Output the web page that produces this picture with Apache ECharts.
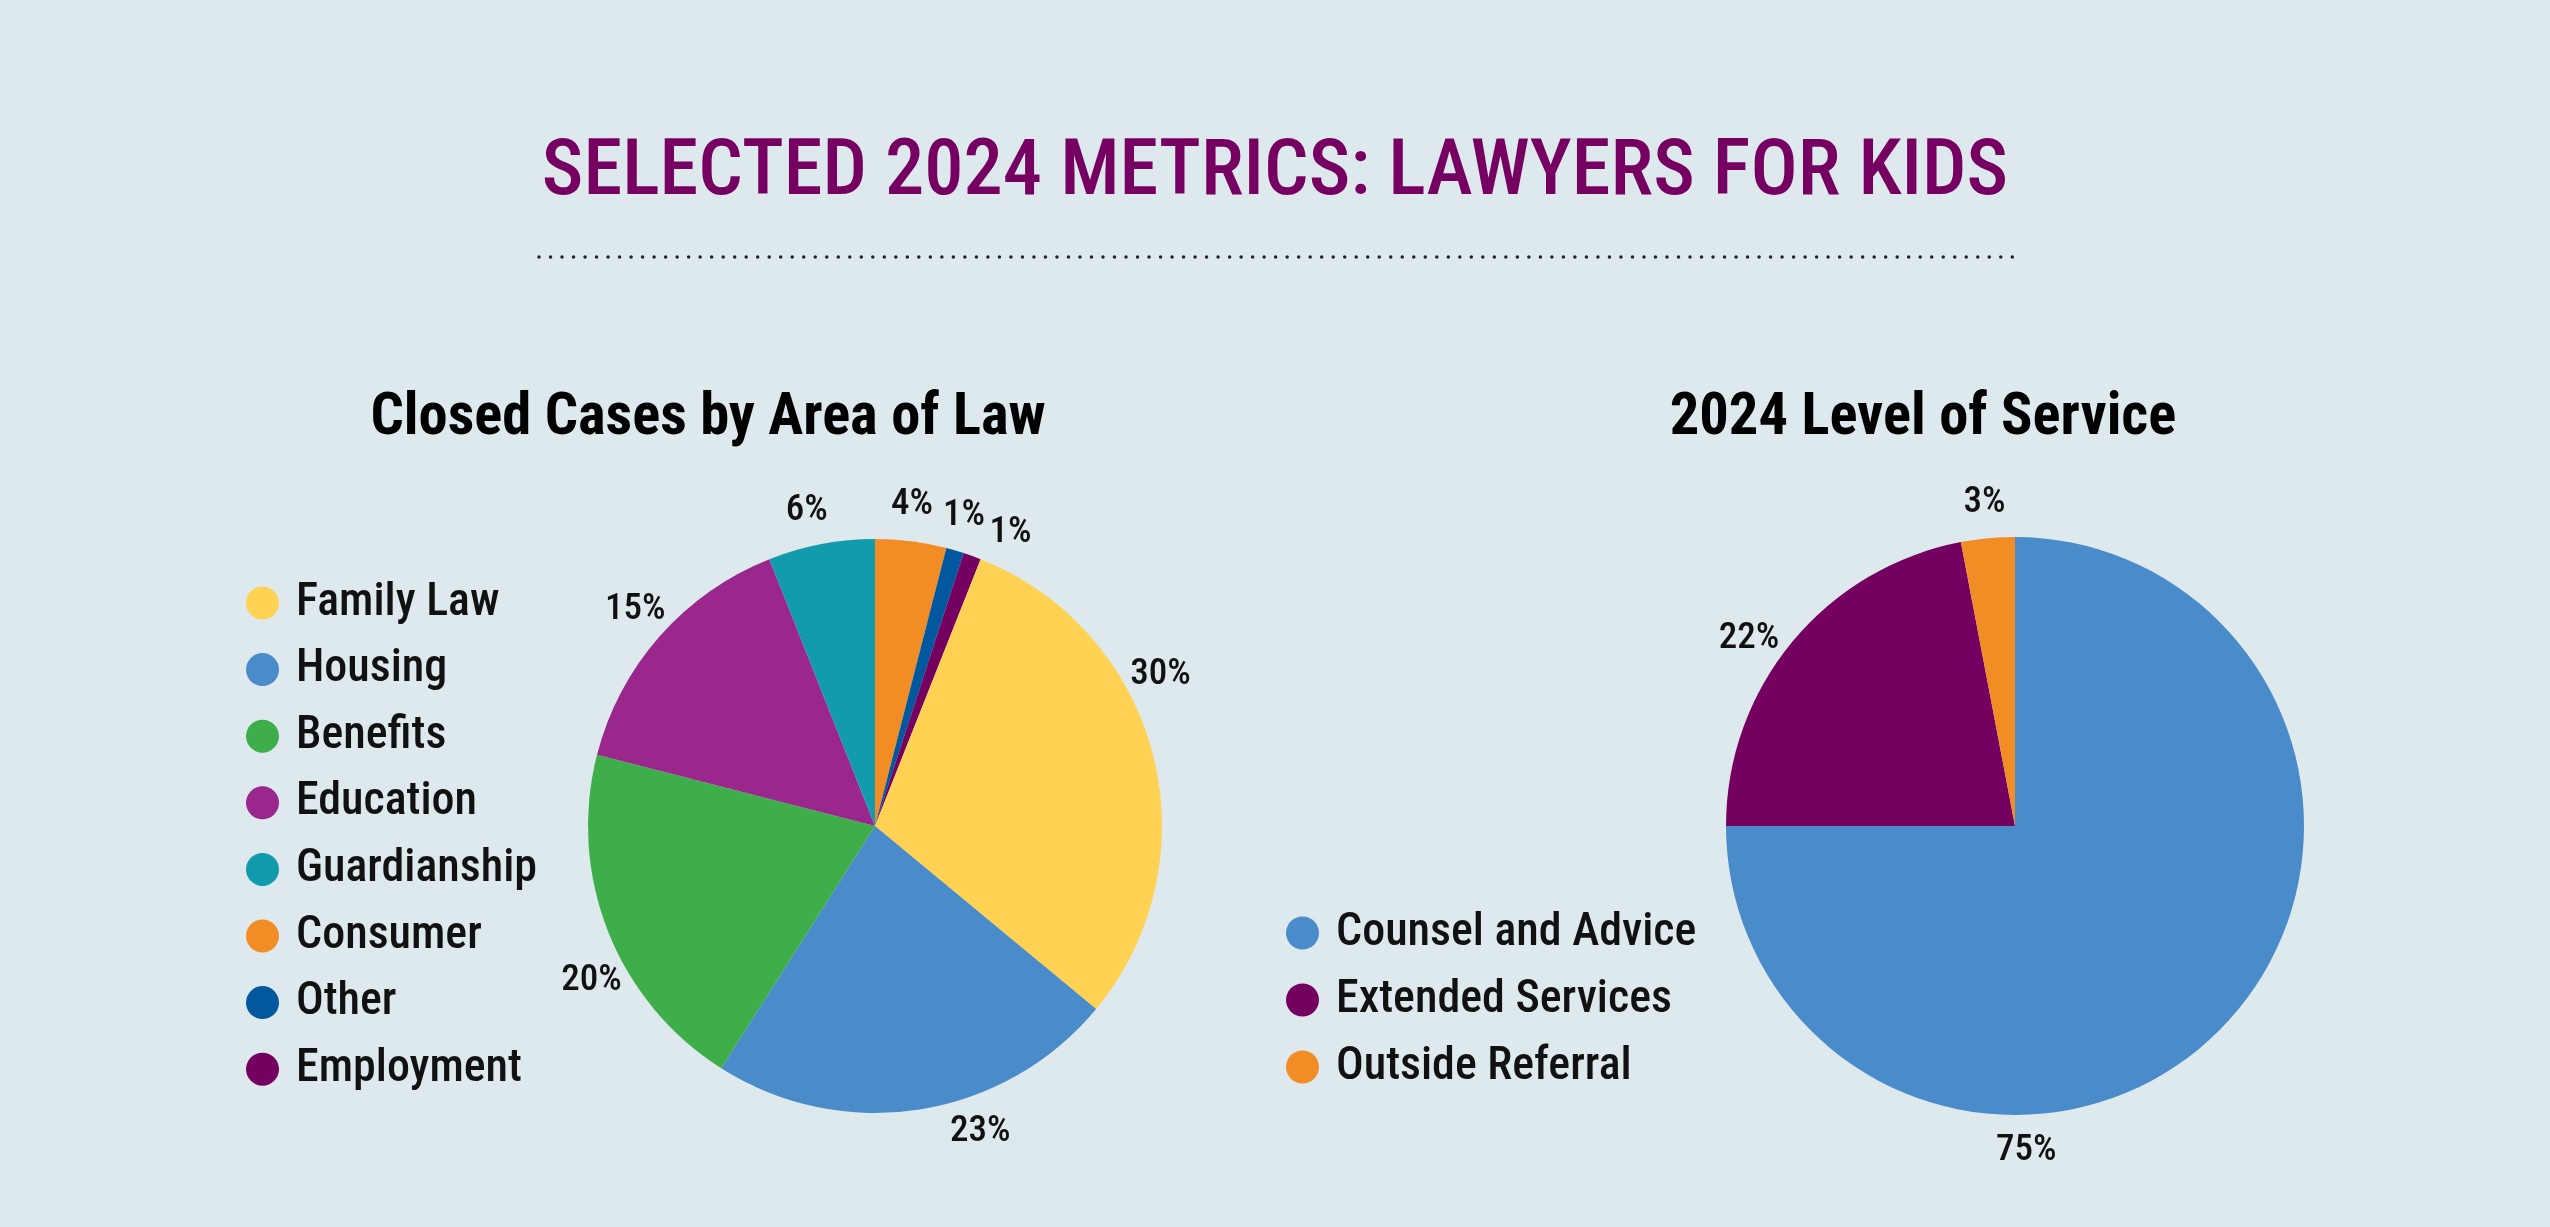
<!DOCTYPE html>
<html><head><meta charset="utf-8">
<script src="https://cdn.jsdelivr.net/npm/echarts@6/dist/echarts.min.js"></script>
<style>html,body{margin:0;padding:0;background:#dee9ed;} #c{width:2550px;height:1227px;}</style>
</head><body><div id="c"></div>
<script>
// ---- data ----
const areaCategories = ['Consumer', 'Other', 'Employment', 'Family Law', 'Housing', 'Benefits', 'Education', 'Guardianship'];
const areaValues = [4, 1, 1, 30, 23, 20, 15, 6];
const areaLegendOrder = ['Family Law', 'Housing', 'Benefits', 'Education', 'Guardianship', 'Consumer', 'Other', 'Employment'];
const serviceCategories = ['Counsel and Advice', 'Extended Services', 'Outside Referral'];
const serviceValues = [75, 22, 3];
const mainTitle = 'SELECTED 2024 METRICS: LAWYERS FOR KIDS';
const leftTitle = 'Closed Cases by Area of Law';
const rightTitle = '2024 Level of Service';

// ---- styles / layout ----
const colorMap = {
  'Family Law': '#ffd254', 'Housing': '#4a8bc9', 'Benefits': '#3dae4a', 'Education': '#9a278b',
  'Guardianship': '#129aad', 'Consumer': '#f28c24', 'Other': '#02589e', 'Employment': '#740060',
  'Counsel and Advice': '#4a8bc9', 'Extended Services': '#740060', 'Outside Referral': '#f28c24'
};
const FONT = '"Roboto Condensed", "Liberation Sans Narrow", "DejaVu Sans Condensed", Roboto, sans-serif';
const pieGeom = [{c: [875, 826], r: 287}, {c: [2015, 826], r: 289}];
const labelGap = 36;
// angular nudges (degrees, clockwise) applied to the library's mid-angle label direction
const labelNudgeDeg = [
  {'Family Law': -13.5, 'Housing': -10, 'Benefits': -7, 'Education': 0.7, 'Guardianship': -1.4, 'Consumer': -0.6, 'Other': -0.2, 'Employment': 5},
  {'Counsel and Advice': 43, 'Extended Services': -4.5, 'Outside Referral': 0}
];

const chart = echarts.init(document.getElementById('c'), null, {renderer: 'canvas'});
const mk = (cats, vals) => cats.map((n, i) => ({name: n, value: vals[i], itemStyle: {color: colorMap[n]}}));

const labelStyle = {
  show: true, position: 'outside', formatter: '{c}%',
  fontFamily: FONT, fontSize: 37, fontWeight: 500, color: '#111'
};
const legendText = {fontFamily: FONT, fontSize: 46, fontWeight: 500, color: '#111', padding: [0, 0, 0, 12]};

function makeLabelLayout(si, cats) {
  return function (p) {
    const g = pieGeom[si];
    const lr = p.labelRect;
    const ax = p.align === 'right' ? lr.x + lr.width + 5 : lr.x - 5;
    const ay = lr.y + lr.height / 2;
    const name = cats[p.dataIndex];
    const th = Math.atan2(ay - g.c[1], ax - g.c[0]) + (labelNudgeDeg[si][name] || 0) * Math.PI / 180;
    const d = g.r + labelGap;
    return {x: g.c[0] + d * Math.cos(th), y: g.c[1] + d * Math.sin(th), align: 'center', verticalAlign: 'middle'};
  };
}

chart.setOption({
  backgroundColor: '#dee9ed',
  animation: false,
  graphic: [
    {type: 'text', x: 1275, y: 174, style: {text: mainTitle, fill: '#760062', font: '500 78.5px ' + FONT, textAlign: 'center', textVerticalAlign: 'middle'}},
    {type: 'line', shape: {x1: 539, y1: 257, x2: 2015, y2: 257}, style: {stroke: '#222', lineWidth: 3.5, lineDash: [0.01, 11.5], lineCap: 'round'}},
    {type: 'text', x: 708, y: 419, style: {text: leftTitle, fill: '#000', font: 'bold 58.5px ' + FONT, textAlign: 'center', textVerticalAlign: 'middle'}},
    {type: 'text', x: 1923, y: 419, style: {text: rightTitle, fill: '#000', font: 'bold 58.5px ' + FONT, textAlign: 'center', textVerticalAlign: 'middle'}}
  ],
  legend: [
    {
      orient: 'vertical', left: 241, top: 575, itemWidth: 33, itemHeight: 33, itemGap: 20.6,
      icon: 'circle', data: areaLegendOrder, textStyle: legendText, selectedMode: false
    },
    {
      orient: 'vertical', left: 1281, top: 905, itemWidth: 33, itemHeight: 33, itemGap: 21,
      icon: 'circle', data: serviceCategories, textStyle: legendText, selectedMode: false
    }
  ],
  series: [
    {
      type: 'pie', center: pieGeom[0].c, radius: pieGeom[0].r, startAngle: 90, clockwise: true,
      avoidLabelOverlap: false, label: labelStyle,
      labelLine: {show: false, length: 0, length2: 0},
      emphasis: {disabled: true},
      labelLayout: makeLabelLayout(0, areaCategories),
      data: mk(areaCategories, areaValues)
    },
    {
      type: 'pie', center: pieGeom[1].c, radius: pieGeom[1].r, startAngle: 90, clockwise: true,
      avoidLabelOverlap: false, label: labelStyle,
      labelLine: {show: false, length: 0, length2: 0},
      emphasis: {disabled: true},
      labelLayout: makeLabelLayout(1, serviceCategories),
      data: mk(serviceCategories, serviceValues)
    }
  ]
});
</script>
</body></html>
